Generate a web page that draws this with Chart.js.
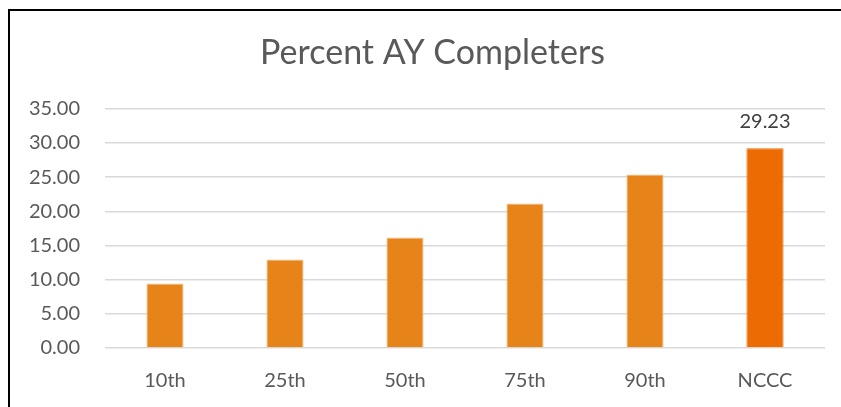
<!DOCTYPE html>
<html>
<head>
<meta charset="utf-8">
<script src="https://cdn.jsdelivr.net/npm/chart.js@4/dist/chart.umd.min.js"></script>
<style>
html,body{margin:0;padding:0;background:#fff;overflow:hidden;}
#wrap{position:relative;width:841px;height:407px;}
#frame{position:absolute;left:8px;top:9px;width:900px;height:500px;border:2px solid #000;box-sizing:border-box;}
canvas{position:absolute;left:0;top:0;}
</style>
</head>
<body>
<div id="wrap">
<div id="frame"></div>
<canvas id="c" width="841" height="407"></canvas>
</div>
<script>
const categories = ["10th", "25th", "50th", "75th", "90th", "NCCC"];
const values = [9.43, 12.94, 16.16, 21.14, 25.39, 29.23];
const labelledIndex = 5;
const titleText = "Percent AY Completers";

const barColors = ["#E6841A", "#E6841A", "#E6841A", "#E6841A", "#E6841A", "#ED6B03"];
const borderColors = ["#F5C08A", "#F5C08A", "#F5C08A", "#F5C08A", "#F5C08A", "#ED6B03"];
const FONT = "Lato, 'Open Sans', sans-serif";
const TEXT = "#595959";

const dataLabelPlugin = {
  id: "dataLabel",
  afterLayout(chart) {
    // centre the title over the framed chart box rather than the canvas
    if (chart.titleBlock) { chart.titleBlock.left = 40; chart.titleBlock.right = 825; }
  },
  afterDatasetsDraw(chart) {
    const ctx = chart.ctx;
    const meta = chart.getDatasetMeta(0);
    const el = meta.data[labelledIndex];
    ctx.save();
    ctx.font = "20px " + FONT;
    ctx.fillStyle = "#404040";
    ctx.textAlign = "center";
    ctx.textBaseline = "middle";
    ctx.fillText(values[labelledIndex].toFixed(2), el.x, el.y - 27);
    ctx.restore();
  }
};

new Chart(document.getElementById("c"), {
  type: "bar",
  data: {
    labels: categories,
    datasets: [{
      data: values,
      backgroundColor: barColors,
      borderColor: borderColors,
      borderWidth: 1,
      borderSkipped: "bottom",
      categoryPercentage: 1,
      barPercentage: 0.31
    }]
  },
  options: {
    responsive: false,
    animation: false,
    devicePixelRatio: 1,
    layout: { padding: { left: 0, right: 16, top: 0, bottom: 0 } },
    plugins: {
      legend: { display: false },
      tooltip: { enabled: false },
      title: {
        display: true,
        text: titleText,
        color: TEXT,
        font: { family: FONT, size: 34, weight: "normal" },
        padding: { top: 33, bottom: 35 }
      }
    },
    scales: {
      x: {
        grid: { display: false },
        border: { display: false },
        ticks: { color: TEXT, font: { family: FONT, size: 20 }, padding: 13 },
        afterFit(s) { s.height = 59; }
      },
      y: {
        min: 0, max: 35,
        grid: { color: "#D9D9D9", lineWidth: 1.5, drawTicks: false },
        border: { display: false },
        ticks: {
          stepSize: 5, color: TEXT, font: { family: FONT, size: 20 }, padding: 25,
          callback: v => Number(v).toFixed(2)
        },
        afterFit(s) { s.width = 105; }
      }
    }
  },
  plugins: [dataLabelPlugin]
});
</script>
</body>
</html>
